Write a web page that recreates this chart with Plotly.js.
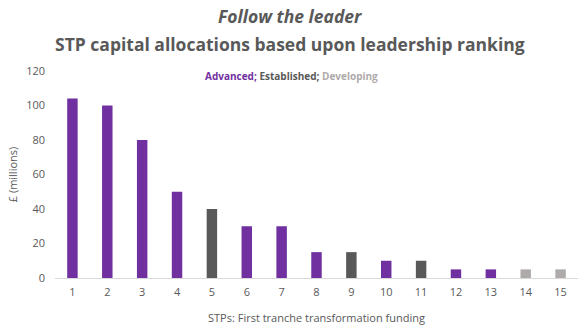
<!DOCTYPE html>
<html>
<head>
<meta charset="utf-8">
<script src="https://cdn.plot.ly/plotly-3.0.1.min.js"></script>
<style>html,body{margin:0;padding:0;background:#fff;}#chart{width:588px;height:330px;}</style>
</head>
<body>
<div id="chart"></div>
<script>
const stps = [1,2,3,4,5,6,7,8,9,10,11,12,13,14,15];
const funding = [104,100,80,50,40,30,30,15,15,10,10,5,5,5,5];
const status = ["Advanced","Advanced","Advanced","Advanced","Established","Advanced","Advanced","Advanced","Established","Advanced","Established","Advanced","Advanced","Developing","Developing"];
const yTicks = [0,20,40,60,80,100,120];

const colorMap = {Advanced:"#7030A0", Established:"#595959", Developing:"#AEAAAA"};
const font = "Open Sans, Liberation Sans, sans-serif";

Plotly.newPlot("chart", [{
  type: "bar",
  x: stps,
  y: funding,
  width: 0.3,
  marker: {color: status.map(s => colorMap[s])},
  hoverinfo: "x+y"
}], {
  width: 588, height: 330,
  margin: {l: 55, r: 10, t: 71, b: 52},
  paper_bgcolor: "#fff", plot_bgcolor: "#fff",
  showlegend: false,
  font: {family: font, color: "#595959", size: 11},
  xaxis: {
    range: [0.5, 15.5], tickvals: stps, ticktext: stps.map(String),
    showgrid: false, zeroline: false, showline: true, linecolor: "#D9D9D9", linewidth: 1,
    ticks: "", ticklabelstandoff: 4, tickfont: {size: 11, color: "#595959"},
    title: {text: "STPs: First tranche transformation funding", font: {size: 11, color: "#595959"}, standoff: 16}
  },
  yaxis: {
    range: [0, 120], tickvals: yTicks, showgrid: false, zeroline: false, showline: false,
    ticks: "", ticklabelstandoff: 9, tickfont: {size: 11, color: "#595959"},
    title: {text: "£ (millions)", font: {size: 11, color: "#595959"}, standoff: 6}
  },
  annotations: [
    {text: "<b><i>Follow the leader</i></b>", xref: "paper", yref: "paper", x: 0.45, y: 1, xanchor: "center", yanchor: "middle",
     yshift: 55, showarrow: false, font: {size: 17.5, color: "#595959", family: font}},
    {text: "<b>STP capital allocations based upon leadership ranking</b>", xref: "paper", yref: "paper", x: 0.45, y: 1, xanchor: "center", yanchor: "middle",
     yshift: 27, showarrow: false, font: {size: 17.5, color: "#595959", family: font}},
    {text: "<b><span style='color:#7030A0'>Advanced;</span> <span style='color:#595959'>Established;</span> <span style='color:#AEAAAA'>Developing</span></b>",
     xref: "paper", yref: "paper", x: 0.453, y: 1, xanchor: "center", yanchor: "middle", yshift: -5,
     showarrow: false, font: {size: 10, family: font}}
  ]
}, {displayModeBar: false, staticPlot: true});
</script>
</body>
</html>
